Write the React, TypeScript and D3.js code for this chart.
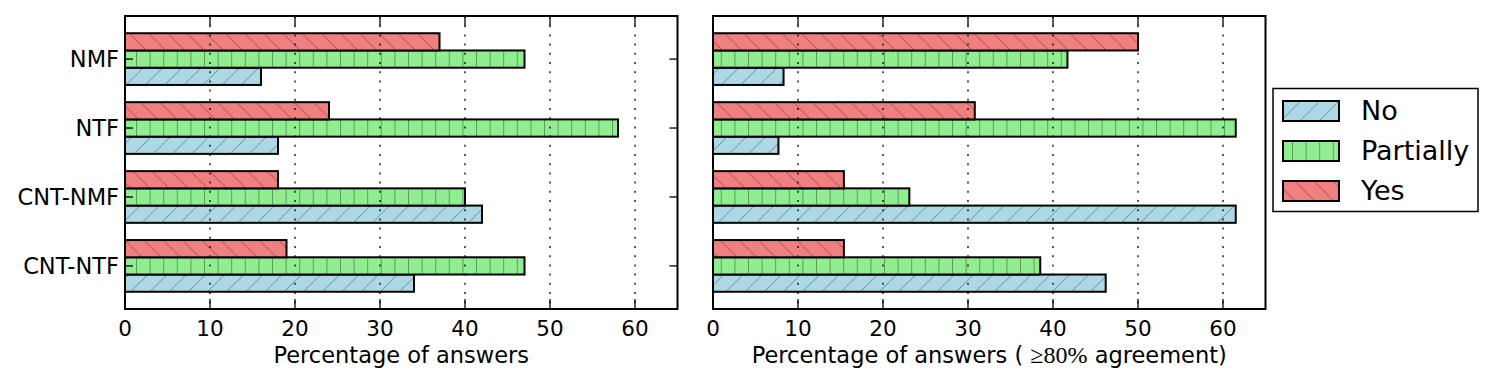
import React, { useEffect, useRef } from 'react';
import * as d3 from 'd3';

// categories (top to bottom) and series
const categories = ['NMF', 'NTF', 'CNT-NMF', 'CNT-NTF'];
const seriesNames = ['No', 'Partially', 'Yes'];

// left panel: all answers (%)
const allNo = [16, 18, 42, 34];
const allPartially = [47, 58, 40, 47];
const allYes = [37, 24, 18, 19];

// right panel: answers with >=80% agreement (%)
const agrNo = [8.3, 7.7, 61.5, 46.2];
const agrPartially = [41.7, 61.5, 23.1, 38.5];
const agrYes = [50, 30.8, 15.4, 15.4];

const xTicks = [0, 10, 20, 30, 40, 50, 60];

const colors: Record<string, string> = { No: '#add8e6', Partially: '#90ee90', Yes: '#f08080' };
const hatchId: Record<string, string> = { No: 'hatch-ne', Partially: 'hatch-v', Yes: 'hatch-nw' };
// offset of each bar inside its group, in category units
const barOffset: Record<string, number> = { Yes: 0, Partially: 0.25, No: 0.5 };

const FONT = 'DejaVu Sans, sans-serif';

const App = () => {
  const svgRef = useRef<SVGSVGElement | null>(null);

  useEffect(() => {
    if (!svgRef.current) return;
    const svg = d3.select(svgRef.current);
    svg.selectAll('*').remove();

    // hatch patterns
    const defs = svg.append('defs');
    const vStep = 13.6;
    const dStep = 19.2;
    const pv = defs.append('pattern').attr('id', 'hatch-v').attr('patternUnits', 'userSpaceOnUse')
      .attr('width', vStep).attr('height', vStep);
    pv.append('line').attr('x1', 0.5).attr('x2', 0.5).attr('y1', 0).attr('y2', vStep)
      .attr('stroke', '#000').attr('stroke-opacity', 0.35).attr('stroke-width', 1);
    const pne = defs.append('pattern').attr('id', 'hatch-ne').attr('patternUnits', 'userSpaceOnUse')
      .attr('width', dStep).attr('height', dStep);
    [[0, dStep, dStep, 0], [-dStep, dStep, 0, 0], [dStep, dStep, 2 * dStep, 0]].forEach(l => {
      pne.append('line').attr('x1', l[0]).attr('y1', l[1]).attr('x2', l[2]).attr('y2', l[3])
        .attr('stroke', '#000').attr('stroke-opacity', 0.4).attr('stroke-width', 0.9);
    });
    const pnw = defs.append('pattern').attr('id', 'hatch-nw').attr('patternUnits', 'userSpaceOnUse')
      .attr('width', dStep).attr('height', dStep);
    [[0, 0, dStep, dStep], [-dStep, 0, 0, dStep], [dStep, 0, 2 * dStep, dStep]].forEach(l => {
      pnw.append('line').attr('x1', l[0]).attr('y1', l[1]).attr('x2', l[2]).attr('y2', l[3])
        .attr('stroke', '#000').attr('stroke-opacity', 0.4).attr('stroke-width', 0.9);
    });

    const top = 16;
    const bottom = 309;
    const y = d3.scaleLinear().domain([-0.25, 4.0]).range([top, bottom]);
    const bandH = y(0.25) - y(0);

    const panels = [
      { x0: 125, x1: 677.5, data: { No: allNo, Partially: allPartially, Yes: allYes }, yLabels: true, label: 'all' },
      { x0: 713, x1: 1265.5, data: { No: agrNo, Partially: agrPartially, Yes: agrYes }, yLabels: false, label: 'agr' },
    ];

    panels.forEach(p => {
      const x = d3.scaleLinear().domain([0, 65]).range([p.x0, p.x1]);
      const g = svg.append('g');

      // bars
      seriesNames.forEach(s => {
        const vals = (p.data as Record<string, number[]>)[s];
        vals.forEach((v, i) => {
          const yy = y(i + barOffset[s]);
          g.append('rect').attr('x', x(0)).attr('y', yy).attr('width', x(v) - x(0)).attr('height', bandH)
            .attr('fill', colors[s]);
          g.append('rect').attr('x', x(0)).attr('y', yy).attr('width', x(v) - x(0)).attr('height', bandH)
            .attr('fill', `url(#${hatchId[s]})`).attr('stroke', '#000').attr('stroke-width', 2);
        });
      });

      // dotted grid
      xTicks.filter(t => t > 0).forEach(t => {
        g.append('line').attr('x1', x(t)).attr('x2', x(t)).attr('y1', top).attr('y2', bottom)
          .attr('stroke', '#000').attr('stroke-width', 1.3).attr('stroke-dasharray', '2,7.2');
      });

      // frame
      g.append('rect').attr('x', p.x0).attr('y', top).attr('width', p.x1 - p.x0).attr('height', bottom - top)
        .attr('fill', 'none').attr('stroke', '#000').attr('stroke-width', 2);

      // x ticks (inward, top and bottom) and labels
      xTicks.forEach(t => {
        g.append('line').attr('x1', x(t)).attr('x2', x(t)).attr('y1', bottom).attr('y2', bottom - 10)
          .attr('stroke', '#000').attr('stroke-width', 1.3);
        g.append('line').attr('x1', x(t)).attr('x2', x(t)).attr('y1', top).attr('y2', top + 10)
          .attr('stroke', '#000').attr('stroke-width', 1.3);
        g.append('text').attr('x', x(t)).attr('y', 335.5).attr('text-anchor', 'middle')
          .attr('font-family', FONT).attr('font-size', 21.5).text(String(t));
      });

      // y ticks and category labels
      if (p.yLabels) {
        categories.forEach((c, i) => {
          const yc = y(i + 0.375);
          g.append('line').attr('x1', p.x0).attr('x2', p.x0 + 8).attr('y1', yc).attr('y2', yc)
            .attr('stroke', '#000').attr('stroke-width', 1.3);
          g.append('line').attr('x1', p.x1).attr('x2', p.x1 - 8).attr('y1', yc).attr('y2', yc)
            .attr('stroke', '#000').attr('stroke-width', 1.3);
          g.append('text').attr('x', 119).attr('y', yc + 8).attr('text-anchor', 'end')
            .attr('font-family', FONT).attr('font-size', 22.5).text(c);
        });
      }

      // axis label
      const xl = g.append('text').attr('x', (p.x0 + p.x1) / 2).attr('y', 362.5).attr('text-anchor', 'middle')
        .attr('font-family', FONT).attr('font-size', 22.5);
      if (p.label === 'all') {
        xl.text('Percentage of answers');
      } else {
        xl.append('tspan').text('Percentage of answers ( ');
        xl.append('tspan').attr('font-family', 'Liberation Serif, serif').attr('font-size', 24).text('≥80%');
        xl.append('tspan').text(' agreement)');
      }
    });

    // legend
    const lg = svg.append('g');
    lg.append('rect').attr('x', 1273).attr('y', 88.5).attr('width', 205).attr('height', 123)
      .attr('fill', '#fff').attr('stroke', '#000').attr('stroke-width', 1.5);
    seriesNames.forEach((s, i) => {
      const yy = 101 + i * 40;
      lg.append('rect').attr('x', 1283).attr('y', yy).attr('width', 56).attr('height', 20).attr('fill', colors[s]);
      lg.append('rect').attr('x', 1283).attr('y', yy).attr('width', 56).attr('height', 20)
        .attr('fill', `url(#${hatchId[s]})`).attr('stroke', '#000').attr('stroke-width', 2);
      lg.append('text').attr('x', 1361).attr('y', yy + 18.5).attr('font-family', FONT).attr('font-size', 27).text(s);
    });
  }, []);

  return (
    <svg ref={svgRef} width={1494} height={388}
      style={{ position: 'absolute', left: 0, top: 0, background: '#fff' }} />
  );
};

export default App;
